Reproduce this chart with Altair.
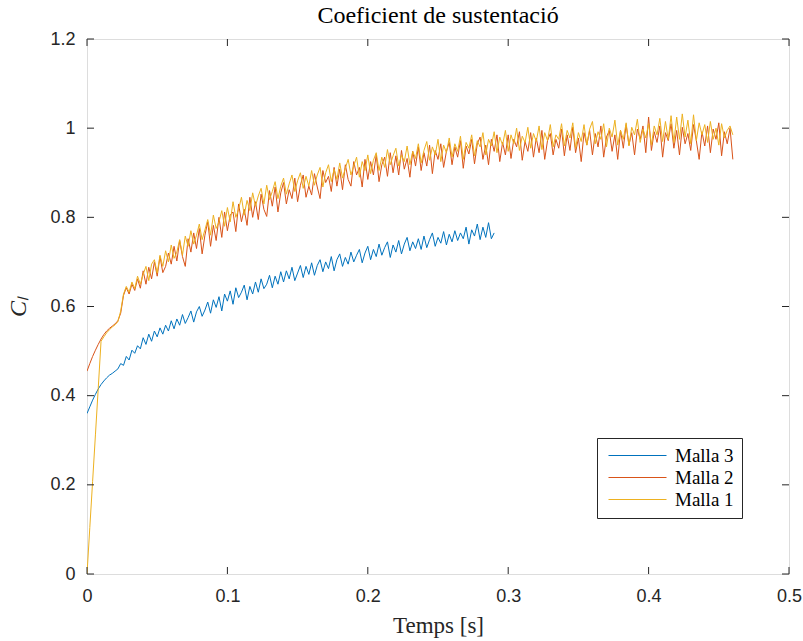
import altair as alt
import pandas as pd

DT = 0.002

malla3 = [
    0.360, 0.375, 0.390, 0.403, 0.415, 0.425, 0.433, 0.440, 0.446, 0.450,
    0.455, 0.460, 0.472, 0.468, 0.488, 0.480, 0.502, 0.495, 0.512, 0.505,
    0.530, 0.515, 0.538, 0.522, 0.545, 0.532, 0.552, 0.538, 0.558, 0.545,
    0.568, 0.550, 0.572, 0.558, 0.582, 0.562, 0.575, 0.590, 0.565, 0.588,
    0.600, 0.578, 0.592, 0.610, 0.585, 0.615, 0.598, 0.622, 0.590, 0.628,
    0.612, 0.635, 0.605, 0.642, 0.620, 0.632, 0.648, 0.615, 0.645, 0.628,
    0.655, 0.632, 0.662, 0.640, 0.650, 0.670, 0.642, 0.668, 0.650, 0.678,
    0.655, 0.680, 0.662, 0.688, 0.658, 0.675, 0.692, 0.665, 0.690, 0.672,
    0.698, 0.670, 0.692, 0.705, 0.678, 0.700, 0.685, 0.712, 0.680, 0.705,
    0.718, 0.690, 0.710, 0.695, 0.722, 0.700, 0.715, 0.728, 0.698, 0.720,
    0.735, 0.705, 0.728, 0.712, 0.740, 0.715, 0.732, 0.745, 0.710, 0.738,
    0.722, 0.748, 0.718, 0.740, 0.755, 0.725, 0.745, 0.730, 0.752, 0.728,
    0.758, 0.732, 0.750, 0.765, 0.735, 0.755, 0.742, 0.768, 0.738, 0.762,
    0.745, 0.770, 0.748, 0.765, 0.752, 0.778, 0.740, 0.772, 0.758, 0.785,
    0.750, 0.778, 0.755, 0.788, 0.752, 0.765,
]

malla2 = [
    0.455, 0.472, 0.488, 0.502, 0.515, 0.527, 0.537, 0.545, 0.551, 0.556,
    0.561, 0.568, 0.585, 0.625, 0.642, 0.628, 0.650, 0.636, 0.662, 0.641,
    0.680, 0.650, 0.688, 0.662, 0.700, 0.668, 0.712, 0.676, 0.690, 0.720,
    0.695, 0.735, 0.702, 0.748, 0.712, 0.690, 0.752, 0.722, 0.765, 0.730,
    0.775, 0.718, 0.760, 0.790, 0.735, 0.782, 0.748, 0.800, 0.755, 0.812,
    0.770, 0.805, 0.812, 0.768, 0.830, 0.790, 0.818, 0.782, 0.845, 0.800,
    0.835, 0.795, 0.852, 0.818, 0.802, 0.860, 0.825, 0.868, 0.812, 0.855,
    0.878, 0.830, 0.862, 0.842, 0.888, 0.835, 0.872, 0.895, 0.845, 0.870,
    0.850, 0.898, 0.868, 0.842, 0.905, 0.878, 0.892, 0.858, 0.912, 0.870,
    0.908, 0.862, 0.918, 0.885, 0.870, 0.925, 0.895, 0.912, 0.868, 0.930,
    0.885, 0.925, 0.895, 0.940, 0.880, 0.918, 0.935, 0.892, 0.945, 0.900,
    0.938, 0.895, 0.950, 0.908, 0.932, 0.890, 0.948, 0.915, 0.958, 0.905,
    0.945, 0.915, 0.962, 0.898, 0.950, 0.930, 0.965, 0.912, 0.948, 0.968,
    0.918, 0.958, 0.935, 0.972, 0.910, 0.960, 0.942, 0.975, 0.920, 0.965,
    0.980, 0.930, 0.962, 0.918, 0.975, 0.948, 0.985, 0.925, 0.968, 0.940,
    0.985, 0.932, 0.975, 0.958, 0.992, 0.928, 0.970, 0.948, 0.990, 0.935,
    0.978, 0.945, 0.995, 0.930, 0.972, 0.988, 0.940, 0.975, 0.955, 0.998,
    0.938, 0.985, 0.950, 1.002, 0.945, 0.978, 0.925, 0.990, 0.962, 0.995,
    0.940, 0.988, 0.958, 1.005, 0.935, 0.980, 0.995, 0.948, 0.985, 0.930,
    0.995, 0.955, 1.008, 0.962, 0.990, 0.940, 0.998, 0.975, 1.005, 0.945,
    1.025, 0.950, 0.992, 0.968, 1.005, 0.935, 0.990, 0.972, 1.010, 0.955,
    0.995, 0.940, 1.002, 0.965, 0.988, 0.950, 1.008, 0.972, 0.930, 0.992,
    0.960, 1.005, 0.945, 0.998, 0.975, 1.012, 0.938, 0.992, 0.965, 1.000,
    0.930,
]

malla1 = [
    0.000, 0.104, 0.208, 0.312, 0.416, 0.522, 0.532, 0.541, 0.548, 0.554,
    0.559, 0.566, 0.590, 0.628, 0.645, 0.632, 0.655, 0.640, 0.668, 0.650,
    0.672, 0.690, 0.658, 0.695, 0.705, 0.675, 0.715, 0.690, 0.725, 0.700,
    0.738, 0.708, 0.722, 0.750, 0.715, 0.758, 0.735, 0.770, 0.740, 0.760,
    0.785, 0.750, 0.772, 0.795, 0.760, 0.805, 0.775, 0.790, 0.815, 0.780,
    0.822, 0.790, 0.835, 0.800, 0.818, 0.845, 0.805, 0.838, 0.815, 0.855,
    0.825, 0.848, 0.865, 0.830, 0.872, 0.840, 0.858, 0.880, 0.842, 0.870,
    0.888, 0.852, 0.875, 0.895, 0.858, 0.882, 0.900, 0.865, 0.892, 0.870,
    0.905, 0.872, 0.895, 0.912, 0.868, 0.900, 0.918, 0.880, 0.908, 0.885,
    0.922, 0.888, 0.910, 0.930, 0.895, 0.915, 0.935, 0.890, 0.925, 0.905,
    0.940, 0.898, 0.928, 0.945, 0.905, 0.935, 0.912, 0.952, 0.918, 0.938,
    0.955, 0.915, 0.940, 0.925, 0.960, 0.918, 0.948, 0.932, 0.965, 0.922,
    0.950, 0.970, 0.928, 0.958, 0.940, 0.975, 0.925, 0.962, 0.945, 0.978,
    0.935, 0.965, 0.948, 0.982, 0.930, 0.968, 0.955, 0.985, 0.938, 0.972,
    0.958, 0.990, 0.940, 0.975, 0.960, 0.992, 0.945, 0.980, 0.962, 0.995,
    0.948, 0.985, 0.965, 1.000, 0.950, 0.982, 0.968, 1.002, 0.955, 0.988,
    0.970, 1.005, 0.952, 0.990, 0.972, 1.008, 0.958, 0.985, 0.975, 1.010,
    0.960, 0.995, 0.978, 1.012, 0.955, 0.990, 0.970, 1.008, 0.962, 0.998,
    1.015, 0.965, 0.992, 0.975, 1.010, 0.958, 1.000, 0.980, 1.018, 0.962,
    0.995, 0.975, 1.012, 0.960, 1.002, 0.985, 1.020, 0.968, 0.998, 0.978,
    1.010, 0.962, 1.005, 0.985, 1.022, 0.970, 1.015, 0.975, 1.028, 0.968,
    1.025, 0.975, 1.032, 0.980, 1.018, 0.965, 1.030, 0.972, 1.012, 0.985,
    1.008, 0.968, 1.015, 0.975, 1.000, 0.962, 1.010, 0.978, 0.995, 1.005,
    0.985,
]

series_names = ["Malla 3", "Malla 2", "Malla 1"]
series_colors = ["#0072BD", "#D95319", "#EDB120"]
x_ticks = [0, 0.1, 0.2, 0.3, 0.4, 0.5]
y_ticks = [0, 0.2, 0.4, 0.6, 0.8, 1.0, 1.2]

rows = []
for name, vals in zip(series_names, [malla3, malla2, malla1]):
    for i, v in enumerate(vals):
        rows.append({"t": round(i * DT, 5), "cl": v, "serie": name, "ord": i})
df = pd.DataFrame(rows)

W, H = 702, 535
TICK = 7
serif = "Liberation Serif"
sans = "Liberation Sans"
dark = "#262626"

xscale = alt.Scale(domain=[0, 0.5], nice=False, zero=False)
yscale = alt.Scale(domain=[0, 1.2], nice=False, zero=False)

lines = alt.Chart(df).mark_line(strokeWidth=1, clip=True).encode(
    x=alt.X("t:Q", scale=xscale,
            axis=alt.Axis(values=x_ticks, format="~g", tickSize=0, domain=False,
                          grid=False, labelFlush=False, labelPadding=13,
                          labelFont=sans, labelFontSize=18, labelColor=dark,
                          title="Temps [s]", titleFont=serif, titleFontSize=23,
                          titleFontWeight="normal", titleColor=dark,
                          titlePadding=9)),
    y=alt.Y("cl:Q", scale=yscale,
            axis=alt.Axis(values=y_ticks, format="~g", tickSize=0, domain=False,
                          grid=False, labelFlush=False, labelPadding=12,
                          labelFont=sans, labelFontSize=18, labelColor=dark,
                          title="Cₗ", titleFont=serif, titleFontStyle="italic",
                          titleFontSize=24, titleFontWeight="normal",
                          titleColor=dark, titlePadding=19)),
    color=alt.Color("serie:N",
                    scale=alt.Scale(domain=series_names, range=series_colors),
                    legend=alt.Legend(title=None, orient="none", legendX=510,
                                      legendY=399, symbolType="M-1.5,0L13,0",
                                      symbolSize=64, symbolStrokeWidth=1.2,
                                      labelFont=serif, labelFontSize=19,
                                      labelColor="#000000", strokeColor=dark,
                                      fillColor="white", padding=8,
                                      rowPadding=2, labelOffset=51)),
    order="ord:Q",
    detail="serie:N",
)

xt = pd.DataFrame({"v": x_ticks})
yt = pd.DataFrame({"v": y_ticks})

xtick_bot = alt.Chart(xt).mark_rule(color=dark, strokeWidth=1).encode(
    x=alt.X("v:Q", scale=xscale), y=alt.value(H), y2=alt.value(H - TICK))
xtick_top = alt.Chart(xt).mark_rule(color=dark, strokeWidth=1).encode(
    x=alt.X("v:Q", scale=xscale), y=alt.value(0), y2=alt.value(TICK))
ytick_l = alt.Chart(yt).mark_rule(color=dark, strokeWidth=1).encode(
    y=alt.Y("v:Q", scale=yscale), x=alt.value(0), x2=alt.value(TICK))
ytick_r = alt.Chart(yt).mark_rule(color=dark, strokeWidth=1).encode(
    y=alt.Y("v:Q", scale=yscale), x=alt.value(W), x2=alt.value(W - TICK))

chart = alt.layer(lines, xtick_bot, xtick_top, ytick_l, ytick_r).properties(
    width=W, height=H,
    title=alt.Title("Coeficient de sustentació", font=serif, fontSize=24,
                    fontWeight="normal", color="#000000", offset=2),
    autosize=alt.AutoSizeParams(type="none"),
    padding={"left": 87, "top": 39, "right": 14, "bottom": 67},
).configure_view(stroke=dark, strokeWidth=1).configure(background="white")

chart.save("out.html", embed_options={"renderer": "svg", "actions": False})
